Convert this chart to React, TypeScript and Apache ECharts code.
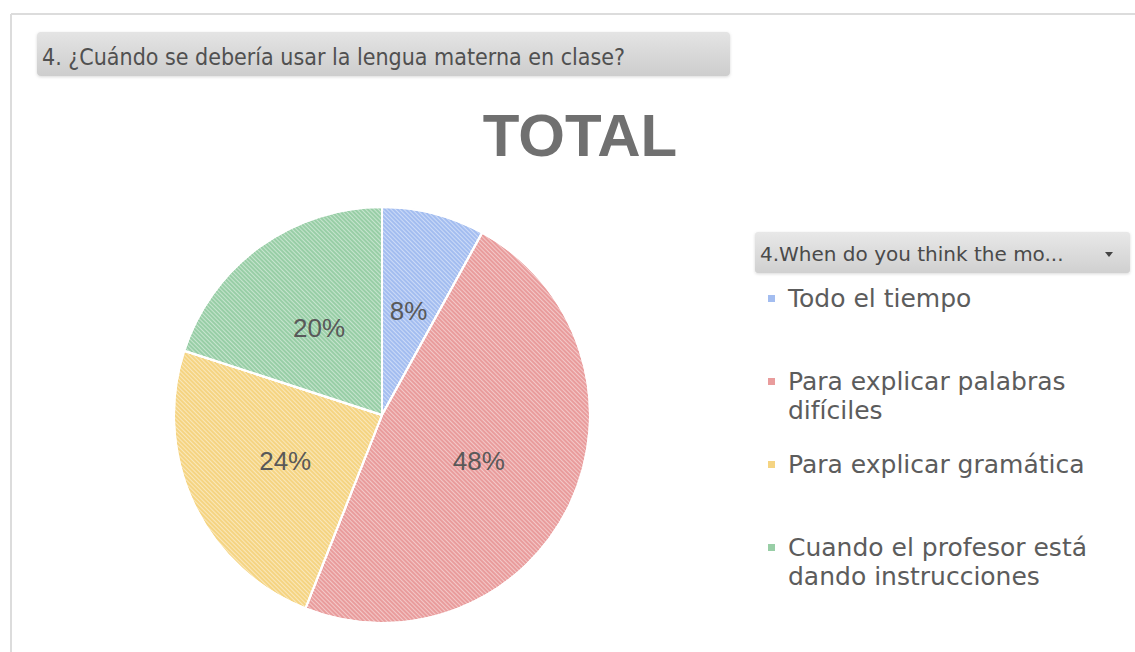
import React, { useEffect, useRef } from "react";
import * as echarts from "echarts";

const categories = [
  "Todo el tiempo",
  "Para explicar palabras\ndifíciles",
  "Para explicar gramática",
  "Cuando el profesor está\ndando instrucciones",
];
const values = [8, 48, 24, 20];
const colors = ["#a3bdf0", "#e99c9c", "#f5d482", "#98cea6"];
const questionTitle = "4. ¿Cuándo se debería usar la lengua materna en clase?";
const chartTitle = "TOTAL";
const slicerHeader = "4.When do you think the mo...";

export default function App() {
  const ref = useRef<HTMLDivElement>(null);
  useEffect(() => {
    if (!ref.current) return;
    const chart = echarts.init(ref.current, null, { renderer: "svg" });
    const legendEls: any[] = [];
    categories.forEach((c, i) => {
      const top = 284 + i * 83;
      legendEls.push({
        type: "rect",
        shape: { x: 768, y: top + 11, width: 7, height: 7 },
        style: { fill: colors[i] },
      });
      legendEls.push({
        type: "text",
        x: 788,
        y: top,
        style: {
          text: c,
          fill: "#5c5c5c",
          font: "25px 'DejaVu Sans', sans-serif",
          lineHeight: 29,
          verticalAlign: "top",
        },
      });
    });
    chart.setOption({
      animation: false,
      backgroundColor: "#ffffff",
      graphic: [
        { type: "line", shape: { x1: 11, y1: 14, x2: 1135, y2: 14 }, style: { stroke: "#dcdcdc", lineWidth: 2 } },
        { type: "line", shape: { x1: 11, y1: 14, x2: 11, y2: 652 }, style: { stroke: "#dcdcdc", lineWidth: 2 } },
        {
          type: "rect",
          shape: { x: 37, y: 32, width: 693, height: 44, r: 4 },
          style: {
            fill: new echarts.graphic.LinearGradient(0, 0, 0, 1, [
              { offset: 0, color: "#e4e4e4" },
              { offset: 1, color: "#cdcdcd" },
            ]),
            shadowBlur: 3,
            shadowColor: "rgba(0,0,0,0.15)",
            shadowOffsetY: 1,
          },
        },
        {
          type: "text",
          x: 42,
          y: 57,
          style: {
            text: questionTitle,
            fill: "#505050",
            font: "23px 'Liberation Sans Narrow', 'DejaVu Sans Condensed', sans-serif",
            verticalAlign: "middle",
          },
        },
        {
          type: "text",
          x: 580,
          y: 135,
          style: {
            text: chartTitle,
            fill: "#707070",
            font: "bold 60px 'Liberation Sans', Arial, sans-serif",
            align: "center",
            verticalAlign: "middle",
          },
        },
        {
          type: "rect",
          shape: { x: 755, y: 232, width: 375, height: 41, r: 3 },
          style: {
            fill: new echarts.graphic.LinearGradient(0, 0, 0, 1, [
              { offset: 0, color: "#e8e8e8" },
              { offset: 1, color: "#d0d0d0" },
            ]),
            shadowBlur: 3,
            shadowColor: "rgba(0,0,0,0.15)",
            shadowOffsetY: 1,
          },
        },
        {
          type: "text",
          x: 760,
          y: 254,
          style: {
            text: slicerHeader,
            fill: "#4a4a4a",
            font: "20px 'DejaVu Sans', sans-serif",
            verticalAlign: "middle",
          },
        },
        {
          type: "polygon",
          shape: { points: [[1105, 252], [1113, 252], [1109, 257]] },
          style: { fill: "#444" },
        },
        ...legendEls,
      ],
      series: [
        {
          type: "pie",
          center: [382, 415],
          radius: 208,
          startAngle: 90,
          clockwise: true,
          itemStyle: { borderColor: "#ffffff", borderWidth: 2 },
          label: {
            show: true,
            position: "inside",
            formatter: "{c}%",
            color: "#595959",
            fontSize: 26,
            fontFamily: "'Liberation Sans', Arial, sans-serif",
          },
          labelLine: { show: false },
          data: categories.map((name, i) => ({
            name,
            value: values[i],
            itemStyle: {
              color: colors[i],
              decal: {
                symbol: "rect",
                symbolSize: 1,
                dashArrayX: [1, 0],
                dashArrayY: [1, 2],
                rotation: Math.PI / 4,
                color: "rgba(255,255,255,0.45)",
              },
            },
          })),
        },
      ],
    });
    return () => chart.dispose();
  }, []);
  return (
    <div
      ref={ref}
      style={{ position: "absolute", left: 0, top: 0, width: 1135, height: 652 }}
    />
  );
}
